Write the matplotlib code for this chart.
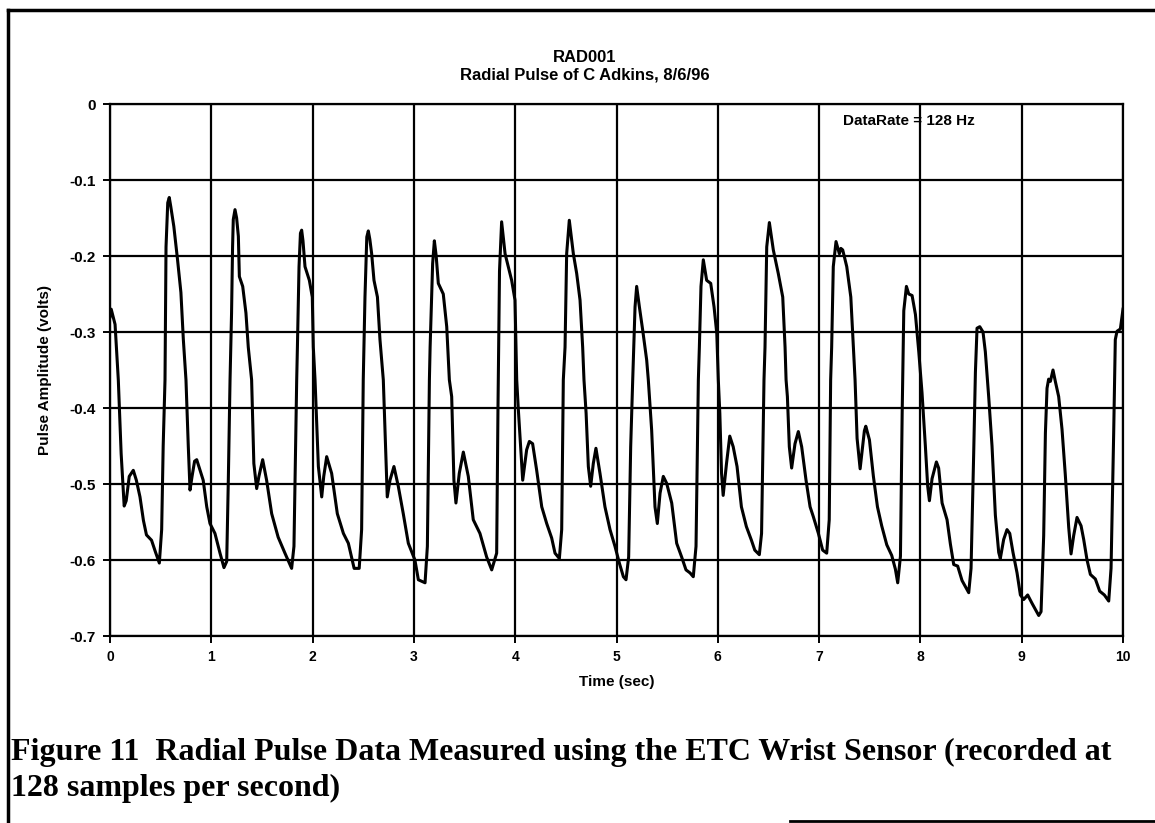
import numpy as np
import matplotlib.pyplot as plt
from matplotlib.lines import Line2D

# pulse trace (time in s, amplitude in volts)
time_s = [
    0.00, 0.012, 0.05, 0.082, 0.11, 0.14, 0.16, 0.19, 0.23, 0.26, 0.296, 0.33, 0.36, 0.41, 0.45, 0.487,
    0.51, 0.525, 0.543, 0.553, 0.57, 0.585, 0.60, 0.63, 0.666, 0.70, 0.724, 0.75, 0.773, 0.79, 0.81,
    0.835, 0.856, 0.88, 0.92, 0.955, 0.987, 1.036, 1.086, 1.125, 1.152, 1.168, 1.185, 1.2, 1.21, 1.217,
    1.234, 1.25, 1.267, 1.277, 1.31, 1.342, 1.365, 1.398, 1.42, 1.448, 1.47, 1.507, 1.546, 1.596, 1.66,
    1.727, 1.793, 1.816, 1.843, 1.85, 1.866, 1.88, 1.892, 1.905, 1.925, 1.968, 1.997, 2.007, 2.024,
    2.057, 2.09, 2.11, 2.139, 2.188, 2.244, 2.304, 2.353, 2.41, 2.46, 2.484, 2.5, 2.517, 2.535, 2.55,
    2.565, 2.583, 2.606, 2.64, 2.665, 2.698, 2.72, 2.737, 2.764, 2.803, 2.846, 2.895, 2.945, 3.01,
    3.044, 3.11, 3.133, 3.153, 3.16, 3.185, 3.202, 3.22, 3.241, 3.29, 3.324, 3.35, 3.373, 3.395, 3.415,
    3.448, 3.488, 3.537, 3.586, 3.652, 3.718, 3.768, 3.817, 3.83, 3.845, 3.866, 3.9, 3.932, 3.965,
    3.998, 4.015, 4.03, 4.054, 4.074, 4.113, 4.14, 4.172, 4.212, 4.262, 4.311, 4.36, 4.393, 4.436,
    4.459, 4.475, 4.492, 4.508, 4.534, 4.574, 4.607, 4.64, 4.666, 4.679, 4.7, 4.722, 4.745, 4.771,
    4.797, 4.837, 4.886, 4.936, 4.985, 5.028, 5.068, 5.094, 5.12, 5.14, 5.16, 5.183, 5.199, 5.226,
    5.258, 5.298, 5.314, 5.347, 5.38, 5.403, 5.43, 5.462, 5.495, 5.545, 5.594, 5.643, 5.686, 5.726,
    5.758, 5.785, 5.808, 5.818, 5.834, 5.857, 5.89, 5.93, 5.963, 5.99, 6.005, 6.02, 6.037, 6.053,
    6.086, 6.118, 6.152, 6.19, 6.233, 6.282, 6.332, 6.365, 6.41, 6.432, 6.456, 6.466, 6.483, 6.509,
    6.548, 6.597, 6.641, 6.664, 6.674, 6.687, 6.706, 6.729, 6.762, 6.795, 6.828, 6.871, 6.911, 6.943,
    6.993, 7.035, 7.075, 7.1, 7.114, 7.124, 7.14, 7.167, 7.2, 7.215, 7.233, 7.273, 7.313, 7.339,
    7.355, 7.375, 7.405, 7.447, 7.461, 7.497, 7.536, 7.576, 7.618, 7.668, 7.717, 7.753, 7.776, 7.803,
    7.82, 7.836, 7.862, 7.885, 7.918, 7.951, 7.984, 8.016, 8.049, 8.072, 8.089, 8.115, 8.158, 8.18,
    8.214, 8.263, 8.296, 8.329, 8.368, 8.411, 8.444, 8.477, 8.5, 8.526, 8.543, 8.559, 8.586, 8.618,
    8.641, 8.674, 8.707, 8.74, 8.773, 8.789, 8.822, 8.855, 8.882, 8.914, 8.954, 8.987, 9.02, 9.059,
    9.102, 9.135, 9.168, 9.191, 9.217, 9.234, 9.25, 9.266, 9.283, 9.309, 9.332, 9.365, 9.398, 9.43,
    9.464, 9.487, 9.513, 9.546, 9.586, 9.612, 9.645, 9.678, 9.727, 9.77, 9.816, 9.859, 9.882, 9.908,
    9.924, 9.941, 9.974, 10.0,
]
amplitude_v = [
    -0.28, -0.27, -0.29, -0.363, -0.46, -0.529, -0.522, -0.49, -0.482, -0.495, -0.517, -0.548, -0.567, -0.574, -0.59, -0.604,
    -0.56, -0.45, -0.363, -0.188, -0.13, -0.123, -0.135, -0.161, -0.204, -0.248, -0.31, -0.363, -0.451, -0.508, -0.49,
    -0.47, -0.468, -0.478, -0.495, -0.53, -0.552, -0.565, -0.591, -0.61, -0.602, -0.495, -0.363, -0.275, -0.188, -0.152,
    -0.139, -0.15, -0.174, -0.227, -0.24, -0.275, -0.32, -0.363, -0.473, -0.506, -0.49, -0.468, -0.495, -0.539, -0.57,
    -0.591, -0.611, -0.582, -0.363, -0.32, -0.214, -0.17, -0.166, -0.18, -0.214, -0.232, -0.254, -0.32, -0.363,
    -0.477, -0.517, -0.49, -0.464, -0.486, -0.539, -0.565, -0.578, -0.611, -0.611, -0.56, -0.363, -0.254, -0.175, -0.167,
    -0.178, -0.197, -0.232, -0.254, -0.31, -0.363, -0.451, -0.517, -0.495, -0.477, -0.503, -0.539, -0.578, -0.6,
    -0.626, -0.63, -0.582, -0.363, -0.32, -0.21, -0.18, -0.2, -0.236, -0.25, -0.293, -0.363, -0.385, -0.495, -0.525,
    -0.486, -0.458, -0.49, -0.547, -0.565, -0.596, -0.613, -0.591, -0.40, -0.22, -0.155, -0.197, -0.214, -0.232,
    -0.258, -0.363, -0.40, -0.451, -0.495, -0.455, -0.444, -0.447, -0.482, -0.53, -0.552, -0.571, -0.591, -0.598,
    -0.56, -0.363, -0.32, -0.197, -0.153, -0.197, -0.223, -0.258, -0.32, -0.363, -0.407, -0.477, -0.503, -0.473,
    -0.453, -0.486, -0.53, -0.56, -0.582, -0.604, -0.622, -0.626, -0.596, -0.451, -0.363, -0.267, -0.24, -0.267,
    -0.297, -0.337, -0.363, -0.429, -0.53, -0.552, -0.512, -0.49, -0.499, -0.525, -0.578, -0.596, -0.613, -0.617,
    -0.622, -0.582, -0.363, -0.32, -0.24, -0.205, -0.232, -0.236, -0.267, -0.302, -0.363, -0.407, -0.486, -0.515,
    -0.473, -0.437, -0.451, -0.477, -0.53, -0.556, -0.574, -0.587, -0.593, -0.565, -0.363, -0.32, -0.188, -0.156,
    -0.192, -0.223, -0.254, -0.32, -0.363, -0.385, -0.451, -0.479, -0.447, -0.431, -0.451, -0.495, -0.53, -0.543,
    -0.565, -0.587, -0.591, -0.547, -0.363, -0.32, -0.214, -0.181, -0.197, -0.19, -0.192, -0.214, -0.254, -0.32,
    -0.363, -0.44, -0.48, -0.43, -0.424, -0.442, -0.49, -0.53, -0.555, -0.58, -0.594, -0.612, -0.63, -0.595,
    -0.407, -0.272, -0.24, -0.25, -0.252, -0.277, -0.326, -0.38, -0.45, -0.503, -0.522, -0.493, -0.471, -0.479,
    -0.525, -0.547, -0.579, -0.606, -0.608, -0.627, -0.635, -0.643, -0.611, -0.46, -0.353, -0.295, -0.293, -0.3,
    -0.326, -0.385, -0.45, -0.541, -0.59, -0.598, -0.573, -0.56, -0.565, -0.59, -0.617, -0.646, -0.652, -0.646,
    -0.657, -0.665, -0.673, -0.668, -0.568, -0.433, -0.374, -0.362, -0.365, -0.35, -0.365, -0.385, -0.428, -0.487,
    -0.557, -0.592, -0.568, -0.544, -0.555, -0.573, -0.6, -0.619, -0.625, -0.641, -0.646, -0.654, -0.611, -0.433,
    -0.31, -0.299, -0.296, -0.27,
]

x_ticks = list(range(0, 11))
y_ticks = [0, -0.1, -0.2, -0.3, -0.4, -0.5, -0.6, -0.7]
y_tick_labels = ["0", "-0.1", "-0.2", "-0.3", "-0.4", "-0.5", "-0.6", "-0.7"]

W, H = 1155, 823
fig = plt.figure(figsize=(W / 100, H / 100), dpi=100)
plt.rcParams['font.family'] = ['Liberation Sans', 'DejaVu Sans']

ax = fig.add_axes([110 / W, 1 - 636 / H, (1123 - 110) / W, (636 - 104) / H])
ax.plot(time_s, amplitude_v, color="black", lw=2.2, solid_joinstyle="round")
ax.set_xlim(0, 10)
ax.set_ylim(-0.7, 0)
ax.set_xticks(x_ticks)
ax.set_yticks(y_ticks)
ax.set_yticklabels(y_tick_labels)
ax.grid(True, color="black", lw=1.6)
for s in ax.spines.values():
    s.set_linewidth(1.6)
ax.tick_params(direction="out", length=5, width=1.4, pad=5)
ax.tick_params(axis="x", labelsize=10)
ax.tick_params(axis="y", labelsize=11)
for lab in ax.get_xticklabels() + ax.get_yticklabels():
    lab.set_fontweight("bold")

ax.set_xlabel("Time (sec)", fontsize=11, fontweight="bold", labelpad=8)
ax.set_ylabel("Pulse Amplitude (volts)", fontsize=11, fontweight="bold")
ax.yaxis.set_label_coords(-0.057, 0.5)
ax.text(7.24, -0.022, "DataRate = 128 Hz", fontsize=11, fontweight="bold", va="center", ha="left")

fig.text(585 / W, 1 - 57 / H, "RAD001", ha="center", va="center", fontsize=12, fontweight="bold")
fig.text(585 / W, 1 - 75 / H, "Radial Pulse of C Adkins, 8/6/96", ha="center", va="center",
         fontsize=12, fontweight="bold")

cap_font = dict(family="Liberation Serif", fontsize=23, fontweight="bold", ha="left", va="baseline")
fig.text(11 / W, 1 - 760 / H, "Figure 11  Radial Pulse Data Measured using the ETC Wrist Sensor (recorded at",
         **cap_font)
fig.text(11 / W, 1 - 796 / H, "128 samples per second)", **cap_font)

# page frame around the figure (top, left, part of bottom)
fig.add_artist(Line2D([8 / W, 1], [1 - 10 / H, 1 - 10 / H], color="black", lw=2.5, transform=fig.transFigure))
fig.add_artist(Line2D([8 / W, 8 / W], [1 - 10 / H, 1 - 822 / H], color="black", lw=2.5, transform=fig.transFigure))
fig.add_artist(Line2D([790 / W, 1], [1 - 821 / H, 1 - 821 / H], color="black", lw=2.0, transform=fig.transFigure))

fig.savefig("out.png", dpi=100)
